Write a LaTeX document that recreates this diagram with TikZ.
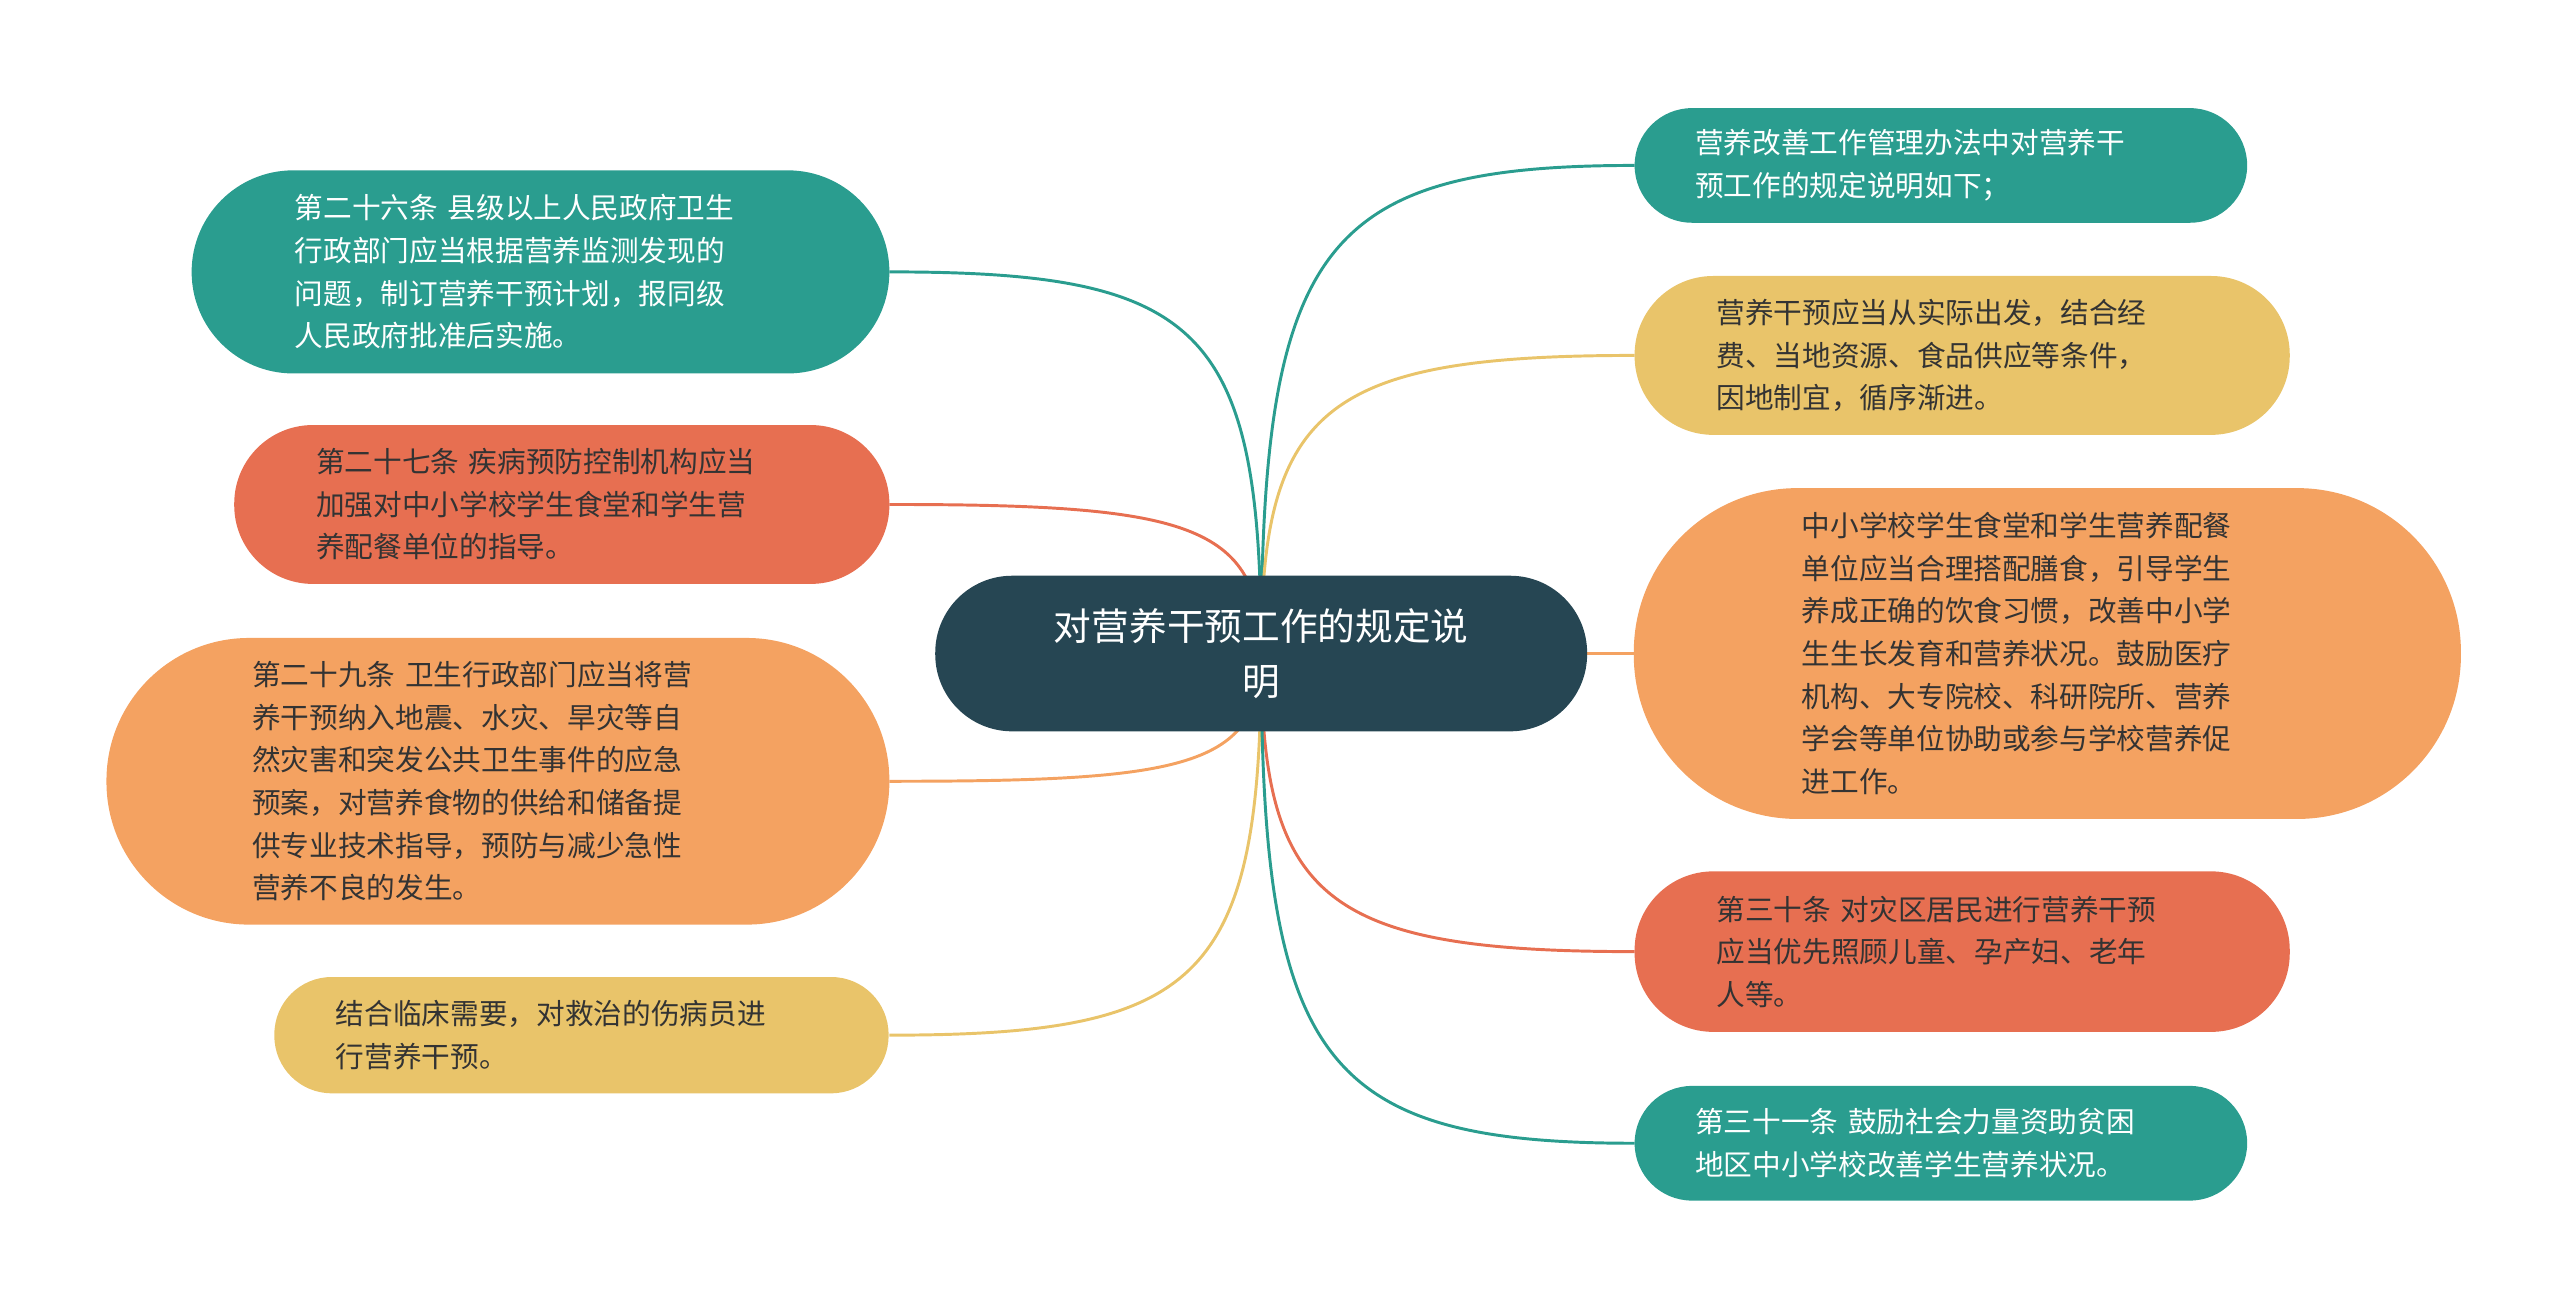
\documentclass[tikz,border=0pt]{standalone}
\usepackage{fontspec}
\setmainfont{Noto Sans CJK SC}
\begin{document}
\begin{tikzpicture}[x=1pt,y=-1pt,
  box/.style={rounded corners=#1, inner sep=0pt, align=left, font=\fontsize{17.5}{26}\selectfont, text=black!80},
  teal/.style={fill=tealc, text=white},
  red/.style={fill=redc},
  ora/.style={fill=orac},
  yel/.style={fill=yelc},
  ln/.style={line width=1.8pt}]
\definecolor{tealc}{HTML}{2A9D8F}
\definecolor{redc}{HTML}{E76F51}
\definecolor{orac}{HTML}{F4A261}
\definecolor{yelc}{HTML}{E9C46A}
\definecolor{darkc}{HTML}{264653}
\useasboundingbox (0,0) rectangle (1563,796);
\coordinate (c0) at (770,399);
% edges
\draw[ln,tealc] (543,166) .. controls +(190,0) and +(0,-200) .. (c0);
\draw[ln,redc] (543,308) .. controls +(180,0) and +(0,-80) .. (c0);
\draw[ln,orac] (543,477) .. controls +(180,0) and +(0,70) .. (c0);
\draw[ln,yelc] (543,632) .. controls +(190,0) and +(0,200) .. (c0);
\draw[ln,tealc] (998,101) .. controls +(-190,0) and +(0,-250) .. (c0);
\draw[ln,yelc] (998,217) .. controls +(-190,0) and +(0,-150) .. (c0);
\draw[ln,orac] (998,399) -- (c0);
\draw[ln,redc] (998,581) .. controls +(-190,0) and +(0,150) .. (c0);
\draw[ln,tealc] (998,698) .. controls +(-190,0) and +(0,250) .. (c0);
% nodes
\node[box=47pt, fill=darkc, text=white, align=center, minimum width=398pt, minimum height=95pt, font=\fontsize{23}{34}\selectfont] (c) at (c0) {对营养干预工作的规定说\\明};
\node[box=62pt, teal, minimum width=426pt, minimum height=124pt, text width=300pt] (l1) at (330,166) {第二十六条 县级以上人民政府卫生\\行政部门应当根据营养监测发现的\\问题，制订营养干预计划，报同级\\人民政府批准后实施。};
\node[box=48pt, red, minimum width=400pt, minimum height=97pt, text width=300pt] (l2) at (343,308) {第二十七条 疾病预防控制机构应当\\加强对中小学校学生食堂和学生营\\养配餐单位的指导。};
\node[box=87pt, ora, minimum width=478pt, minimum height=175pt, text width=300pt] (l3) at (304,477) {第二十九条 卫生行政部门应当将营\\养干预纳入地震、水灾、旱灾等自\\然灾害和突发公共卫生事件的应急\\预案，对营养食物的供给和储备提\\供专业技术指导，预防与减少急性\\营养不良的发生。};
\node[box=35pt, yel, minimum width=375pt, minimum height=71pt, text width=300pt] (l4) at (355,632) {结合临床需要，对救治的伤病员进\\行营养干预。};
\node[box=35pt, teal, minimum width=374pt, minimum height=70pt, text width=300pt] (r1) at (1185,101) {营养改善工作管理办法中对营养干\\预工作的规定说明如下；};
\node[box=48pt, yel, minimum width=400pt, minimum height=97pt, text width=300pt] (r2) at (1198,217) {营养干预应当从实际出发，结合经\\费、当地资源、食品供应等条件，\\因地制宜，循序渐进。};
\node[box=100pt, ora, minimum width=505pt, minimum height=202pt, text width=300pt] (r3) at (1250,399) {中小学校学生食堂和学生营养配餐\\单位应当合理搭配膳食，引导学生\\养成正确的饮食习惯，改善中小学\\生生长发育和营养状况。鼓励医疗\\机构、大专院校、科研院所、营养\\学会等单位协助或参与学校营养促\\进工作。};
\node[box=48pt, red, minimum width=400pt, minimum height=98pt, text width=300pt] (r4) at (1198,581) {第三十条 对灾区居民进行营养干预\\应当优先照顾儿童、孕产妇、老年\\人等。};
\node[box=35pt, teal, minimum width=374pt, minimum height=70pt, text width=300pt] (r5) at (1185,698) {第三十一条 鼓励社会力量资助贫困\\地区中小学校改善学生营养状况。};
\end{tikzpicture}
\end{document}
